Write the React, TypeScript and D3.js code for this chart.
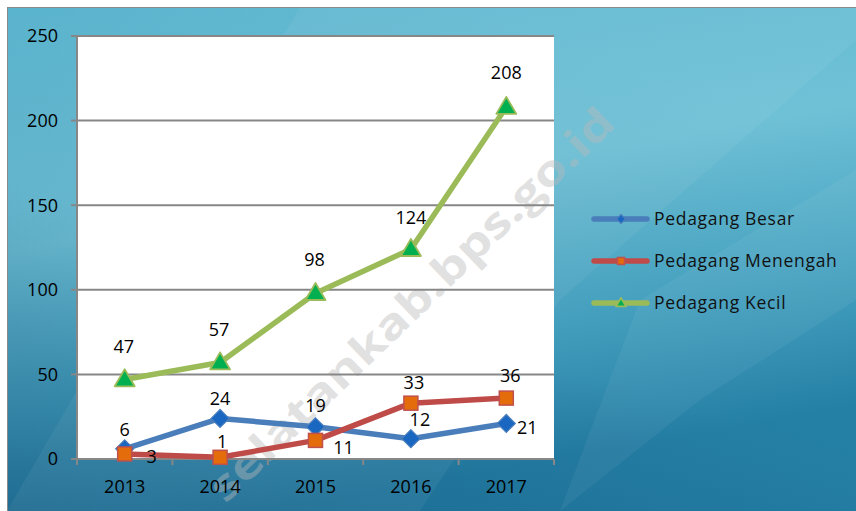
import * as d3 from "d3"

const YEARS = ["2013", "2014", "2015", "2016", "2017"]
const BESAR = [6, 24, 19, 12, 21]
const MENENGAH = [3, 1, 11, 33, 36]
const KECIL = [47, 57, 98, 124, 208]
const Y_TICKS = [0, 50, 100, 150, 200, 250]
const SERIES_NAMES = ["Pedagang Besar", "Pedagang Menengah", "Pedagang Kecil"]

// where each data label sits relative to its point (dx, dy)
const LABEL_OFFSETS: [number, number][][] = [
  [[0, -19], [0, -20], [0, -21], [9, -19], [21, 4]],
  [[27, 3], [2, -16], [28, 7], [3, -20], [4, -22]],
  [[-1, -33], [-1, -33], [-1, -33], [0, -31], [0, -34]],
]

const W = 856
const H = 511
const M = { left: 77, right: 554, top: 36, bottom: 459 }
const FONT = "'Open Sans', 'Noto Sans', sans-serif"

const LINE_COLORS = ["#4a7ebb", "#be4b48", "#9bbb59"]

function Marker({ kind, x, y, s = 1 }: { kind: number; x: number; y: number; s?: number }) {
  if (kind === 0) {
    const r = 9 * s
    return (
      <path
        d={`M${x},${y - r}L${x + r},${y}L${x},${y + r}L${x - r},${y}Z`}
        fill="#1a67c2"
        stroke="#4a7ebb"
        strokeWidth={1.2}
      />
    )
  }
  if (kind === 1) {
    const r = 7 * s
    return <rect x={x - r} y={y - r} width={2 * r} height={2 * r} fill="#e46c0a" stroke="#c0504d" strokeWidth={1.5} />
  }
  const w = 10 * s
  const h = 17 * s
  return (
    <path
      d={`M${x},${y - h * 0.6}L${x + w},${y + h * 0.4}L${x - w},${y + h * 0.4}Z`}
      fill="#00b050"
      stroke="#9bbb59"
      strokeWidth={1.8}
      strokeLinejoin="round"
    />
  )
}

export default function App() {
  const x = d3.scaleBand<string>().domain(YEARS).range([M.left, M.right]).padding(0)
  const y = d3.scaleLinear().domain([0, 250]).range([M.bottom, M.top])
  const cx = (yr: string) => (x(yr) ?? 0) + x.bandwidth() / 2

  const series = [BESAR, MENENGAH, KECIL]
  const line = d3
    .line<number>()
    .x((_, i) => cx(YEARS[i]))
    .y((d) => y(d))

  const boundaries = YEARS.map((yr) => x(yr) ?? 0).concat([M.right])

  return (
    <div style={{ position: "fixed", left: 0, top: 0 }}>
      <svg width={W} height={H} style={{ display: "block", fontFamily: FONT }}>
        <defs>
          <linearGradient id="bg" x1="0" y1="0" x2="0.3" y2="1">
            <stop offset="0" stopColor="#5db7d0" />
            <stop offset="0.45" stopColor="#6fc1d6" />
            <stop offset="0.75" stopColor="#48a5c3" />
            <stop offset="1" stopColor="#2784aa" />
          </linearGradient>
          <linearGradient id="shade" x1="0" y1="1" x2="0.55" y2="0">
            <stop offset="0" stopColor="#0d4a72" stopOpacity="0.5" />
            <stop offset="0.5" stopColor="#0d4a72" stopOpacity="0.08" />
            <stop offset="1" stopColor="#0d4a72" stopOpacity="0" />
          </linearGradient>
        </defs>
        <rect x={0} y={0} width={W} height={H} fill="#fff" />
        <rect x={7} y={7} width={W - 7} height={H - 7} fill="url(#bg)" />
        <rect x={7} y={7} width={W - 7} height={H - 7} fill="url(#shade)" />
        <path d={`M300,7L856,7L856,40L560,300L420,511L7,511Z`} fill="#ffffff" opacity={0.05} />
        <path d={`M560,511L640,300L856,170L856,300L700,400Z`} fill="#ffffff" opacity={0.05} />
        <path d={`M7,7.5H856M7.5,7V511`} stroke="#8a8a8a" strokeWidth={1} fill="none" />

        {/* plot area */}
        <rect x={M.left} y={M.top} width={M.right - M.left} height={M.bottom - M.top} fill="#fff" />

        {/* watermark */}
        <text
          x={410}
          y={303}
          transform="rotate(-44 410 303)"
          textAnchor="middle"
          dominantBaseline="central"
          fontSize={42}
          fontWeight="bold"
          fill="#b9b9b9"
          opacity={0.42}
          textLength={545}
          lengthAdjust="spacingAndGlyphs"
        >
          selatankab.bps.go.id
        </text>

        {/* gridlines */}
        {Y_TICKS.filter((t) => t > 0).map((t) => (
          <line key={t} x1={M.left} x2={M.right} y1={y(t)} y2={y(t)} stroke="#878787" strokeWidth={2} />
        ))}

        {/* axes */}
        <line x1={M.left} x2={M.left} y1={M.top} y2={M.bottom} stroke="#878787" strokeWidth={2} />
        <line x1={M.left - 6} x2={M.right} y1={M.bottom} y2={M.bottom} stroke="#878787" strokeWidth={2} />
        {Y_TICKS.map((t) => (
          <g key={t}>
            <line x1={M.left - 6} x2={M.left} y1={y(t)} y2={y(t)} stroke="#878787" strokeWidth={2} />
            <text x={58} y={y(t)} dy="0.35em" textAnchor="end" fontSize={18} fill="#000">
              {t}
            </text>
          </g>
        ))}
        {boundaries.map((b, i) => (
          <line key={i} x1={b} x2={b} y1={M.bottom} y2={M.bottom + 6} stroke="#878787" strokeWidth={2} />
        ))}
        {YEARS.map((yr) => (
          <text key={yr} x={cx(yr)} y={493} textAnchor="middle" fontSize={18} fill="#000">
            {yr}
          </text>
        ))}

        {/* series */}
        {series.map((s, si) => (
          <path
            key={si}
            d={line(s) ?? ""}
            fill="none"
            stroke={LINE_COLORS[si]}
            strokeWidth={5.5}
            strokeLinejoin="round"
            strokeLinecap="round"
          />
        ))}
        {series.map((s, si) =>
          s.map((v, i) => <Marker key={`${si}-${i}`} kind={si} x={cx(YEARS[i])} y={y(v)} />)
        )}
        {series.map((s, si) =>
          s.map((v, i) => (
            <text
              key={`l${si}-${i}`}
              x={cx(YEARS[i]) + LABEL_OFFSETS[si][i][0]}
              y={y(v) + LABEL_OFFSETS[si][i][1]}
              dy="0.35em"
              textAnchor="middle"
              fontSize={18}
              fill="#000"
            >
              {v}
            </text>
          ))
        )}

        {/* legend */}
        {SERIES_NAMES.map((name, i) => {
          const ly = [219, 261, 303][i]
          return (
            <g key={name}>
              <line x1={594} x2={647} y1={ly} y2={ly} stroke={LINE_COLORS[i]} strokeWidth={5.5} strokeLinecap="round" />
              <Marker kind={i} x={621} y={ly} s={0.5} />
              <text x={654} y={ly} dy="0.35em" fontSize={17.5} fill="#111" letterSpacing={0.7}>
                {name}
              </text>
            </g>
          )
        })}
      </svg>
    </div>
  )
}
